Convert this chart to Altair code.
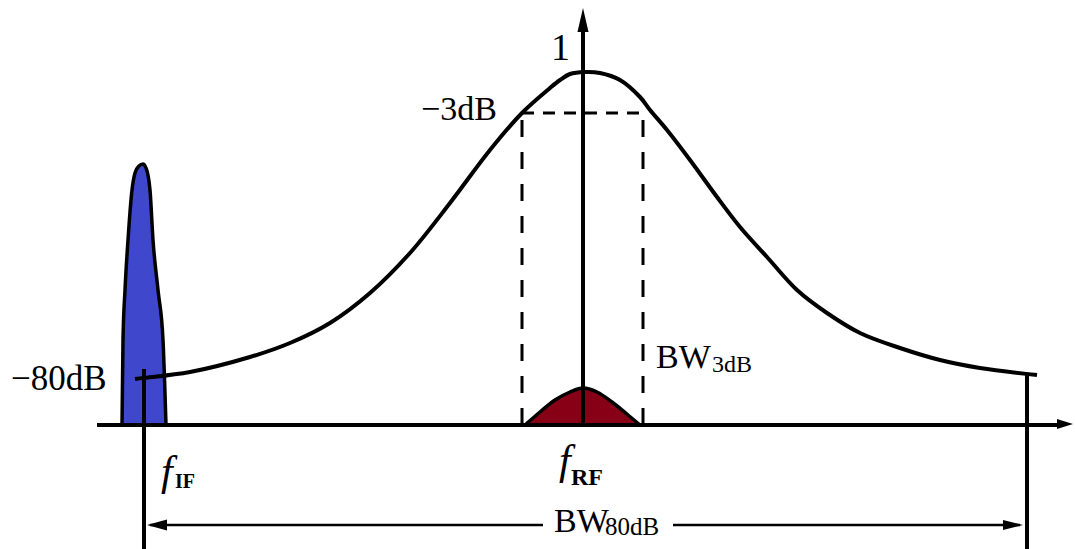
import altair as alt
import pandas as pd

# Frequency runs left to right in arbitrary units; level is the height above the baseline.
resp_f = [135, 143, 190, 250, 290, 330, 370, 410, 450, 490, 522, 550, 560, 570, 585,
          600, 620, 640, 650, 667, 690, 717, 740, 767, 797, 827, 860, 900, 940, 980, 1037]
resp_lvl = [46, 47, 53, 68, 82, 102, 132, 172, 222, 275, 312, 337, 345, 351, 353,
            352, 345, 328, 315, 295, 265, 228, 198, 168, 135, 112, 92, 77, 65, 57, 50]

# IF spur (blue) and RF signal (dark red)
if_f = [122, 123, 125, 128, 132, 135, 139, 143, 146, 148, 150, 153, 158, 163, 166]
if_lvl = [0, 85, 135, 185, 235, 252, 259, 261, 257, 250, 235, 185, 135, 85, 0]
rf_f = [525, 540, 555, 570, 583, 597, 612, 628, 640]
rf_lvl = [0, 13, 25, 33, 37, 33, 23, 10, 0]

# Reference marks
f_rf = 583
f_if = 144
f_edge_right = 1027
lvl_3db = 312
f_3db_lo, f_3db_hi = 522, 643
lvl_80db_left, lvl_80db_right = 56, 50
lvl_bw80 = -100

xs = alt.Scale(domain=[0, 1075], nice=False, zero=False)
ys = alt.Scale(domain=[-124, 425], nice=False, zero=False)


def X(field="f"):
    return alt.X(f"{field}:Q", scale=xs, axis=None)


def Y(field="lvl"):
    return alt.Y(f"{field}:Q", scale=ys, axis=None)


resp = pd.DataFrame({"f": resp_f, "lvl": resp_lvl})
spur = pd.DataFrame({"f": if_f, "lvl": if_lvl})
sig = pd.DataFrame({"f": rf_f, "lvl": rf_lvl})

INK = "#000000"

spur_fill = alt.Chart(spur).mark_area(color="#3f48cc", interpolate="monotone").encode(
    x=X(), y=Y(), y2=alt.datum(0))
spur_edge = alt.Chart(spur).mark_line(color=INK, strokeWidth=3.5, interpolate="monotone").encode(
    x=X(), y=Y())
sig_fill = alt.Chart(sig).mark_area(color="#880015", interpolate="monotone").encode(
    x=X(), y=Y(), y2=alt.datum(0))
sig_edge = alt.Chart(sig).mark_line(color=INK, strokeWidth=3.5, interpolate="monotone").encode(
    x=X(), y=Y())
curve = alt.Chart(resp).mark_line(color=INK, strokeWidth=4, interpolate="catmull-rom").encode(
    x=X(), y=Y())

# Solid straight segments: axes, band edges and the 80 dB bandwidth span
solid = pd.DataFrame([
    {"f": 97, "f2": 1062, "lvl": 0, "lvl2": 0, "w": 4},
    {"f": f_rf, "f2": f_rf, "lvl": 0, "lvl2": 400, "w": 4},
    {"f": f_if, "f2": f_if, "lvl": lvl_80db_left, "lvl2": -130, "w": 4},
    {"f": f_edge_right, "f2": f_edge_right, "lvl": lvl_80db_right, "lvl2": -130, "w": 4},
    {"f": 150, "f2": 543, "lvl": lvl_bw80, "lvl2": lvl_bw80, "w": 2.5},
    {"f": 673, "f2": 1020, "lvl": lvl_bw80, "lvl2": lvl_bw80, "w": 2.5},
])
rules = alt.Chart(solid).mark_rule(color=INK, strokeCap="butt").encode(
    x=X(), x2="f2:Q", y=Y(), y2="lvl2:Q",
    strokeWidth=alt.StrokeWidth("w:Q", scale=None))

dash_h = pd.DataFrame([{"f": f_3db_lo, "f2": f_3db_hi, "lvl": lvl_3db, "lvl2": lvl_3db}])
dash_v = pd.DataFrame([
    {"f": f_3db_lo, "f2": f_3db_lo, "lvl": 0, "lvl2": lvl_3db},
    {"f": f_3db_hi, "f2": f_3db_hi, "lvl": 0, "lvl2": lvl_3db},
])
dashed_h = alt.Chart(dash_h).mark_rule(color=INK, strokeWidth=3, strokeDash=[12, 9]).encode(
    x=X(), x2="f2:Q", y=Y(), y2="lvl2:Q")
dashed_v = alt.Chart(dash_v).mark_rule(color=INK, strokeWidth=3, strokeDash=[17, 15]).encode(
    x=X(), x2="f2:Q", y=Y(), y2="lvl2:Q")

# Arrowheads
heads = pd.DataFrame([
    {"f": f_rf, "lvl": 405, "shp": "M0,-1L0.46,1L-0.46,1Z", "sz": 576},
    {"f": 1065, "lvl": 1, "shp": "M1,0L-1,-0.62L-1,0.62Z", "sz": 256},
    {"f": 157, "lvl": lvl_bw80, "shp": "M-1,0L1,-0.55L1,0.55Z", "sz": 400},
    {"f": 1013, "lvl": lvl_bw80, "shp": "M1,0L-1,-0.5L-1,0.5Z", "sz": 400},
])
arrows = alt.Chart(heads).mark_point(filled=True, color=INK, opacity=1, strokeWidth=0).encode(
    x=X(), y=Y(),
    shape=alt.Shape("shp:N", scale=None),
    size=alt.Size("sz:Q", scale=None))

SERIF = "Liberation Serif"
labels = pd.DataFrame([
    {"t": "1", "f": 551, "lvl": 365, "s": 38, "st": "normal", "wt": "normal"},
    {"t": "\u22123dB", "f": 421, "lvl": 305, "s": 34, "st": "normal", "wt": "normal"},
    {"t": "\u221280dB", "f": 11, "lvl": 35, "s": 35, "st": "normal", "wt": "normal"},
    {"t": "BW", "f": 656, "lvl": 57, "s": 34, "st": "normal", "wt": "normal"},
    {"t": "3dB", "f": 712, "lvl": 53, "s": 24, "st": "normal", "wt": "normal"},
    {"t": "BW", "f": 554, "lvl": -107, "s": 34, "st": "normal", "wt": "normal"},
    {"t": "80dB", "f": 605, "lvl": -110, "s": 25, "st": "normal", "wt": "normal"},
    {"t": "f", "f": 161, "lvl": -60, "s": 42, "st": "italic", "wt": "normal"},
    {"t": "IF", "f": 175, "lvl": -63, "s": 20, "st": "normal", "wt": "bold"},
    {"t": "f", "f": 559, "lvl": -49, "s": 42, "st": "italic", "wt": "normal"},
    {"t": "RF", "f": 571, "lvl": -60, "s": 24, "st": "normal", "wt": "bold"},
])


def text_layer(style, weight):
    sub = labels[(labels.st == style) & (labels.wt == weight)]
    return alt.Chart(sub).mark_text(
        font=SERIF, fontStyle=style, fontWeight=weight, color=INK,
        align="left", baseline="alphabetic").encode(
        x=X(), y=Y(), text="t:N", size=alt.Size("s:Q", scale=None))


chart = alt.layer(
    spur_fill, sig_fill, dashed_h, dashed_v, rules, curve, spur_edge, sig_edge,
    arrows,
    text_layer("normal", "normal"), text_layer("normal", "bold"), text_layer("italic", "normal")
).properties(
    width=1075, height=549, autosize=alt.AutoSizeParams(type="none"), padding=0,
    background="white"
).configure_view(stroke=None)

chart.save("out.html", embed_options={"renderer": "svg", "actions": False})
